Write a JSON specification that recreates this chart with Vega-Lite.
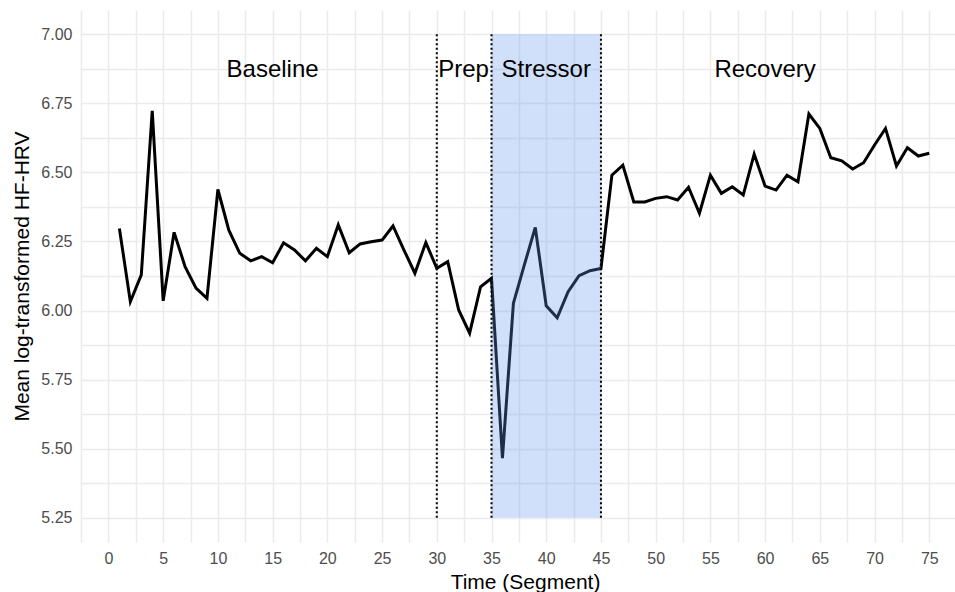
{
  "$schema": "https://vega.github.io/schema/vega-lite/v6.json",
  "autosize": {"type": "none"},
  "padding": {"left": 80, "top": 10, "right": 0, "bottom": 50},
  "width": 875,
  "height": 532,
  "background": "white",
  "config": {
    "view": {"stroke": null},
    "font": "Liberation Sans",
    "axis": {"domain": false, "ticks": false, "gridColor": "#ebebeb", "gridWidth": 1.5, "labelColor": "#4d4d4d", "labelFontSize": 16, "titleColor": "#000000", "titleFontSize": 21, "titleFontWeight": "normal", "labelFont": "Liberation Sans", "titleFont": "Liberation Sans", "labelOverlap": false, "labelBound": false, "labelFlush": false, "tickCount": 200}
  },
  "datasets": {
    "hrv": [
      {"segment": 1, "hrv": 6.297}, {"segment": 2, "hrv": 6.032}, {"segment": 3, "hrv": 6.129}, {"segment": 4, "hrv": 6.723}, {"segment": 5, "hrv": 6.035},
      {"segment": 6, "hrv": 6.283}, {"segment": 7, "hrv": 6.159}, {"segment": 8, "hrv": 6.081}, {"segment": 9, "hrv": 6.044}, {"segment": 10, "hrv": 6.438},
      {"segment": 11, "hrv": 6.291}, {"segment": 12, "hrv": 6.207}, {"segment": 13, "hrv": 6.180}, {"segment": 14, "hrv": 6.195}, {"segment": 15, "hrv": 6.173},
      {"segment": 16, "hrv": 6.245}, {"segment": 17, "hrv": 6.219}, {"segment": 18, "hrv": 6.180}, {"segment": 19, "hrv": 6.225}, {"segment": 20, "hrv": 6.195},
      {"segment": 21, "hrv": 6.310}, {"segment": 22, "hrv": 6.209}, {"segment": 23, "hrv": 6.241}, {"segment": 24, "hrv": 6.249}, {"segment": 25, "hrv": 6.255},
      {"segment": 26, "hrv": 6.306}, {"segment": 27, "hrv": 6.219}, {"segment": 28, "hrv": 6.135}, {"segment": 29, "hrv": 6.246}, {"segment": 30, "hrv": 6.153},
      {"segment": 31, "hrv": 6.177}, {"segment": 32, "hrv": 6.002}, {"segment": 33, "hrv": 5.918}, {"segment": 34, "hrv": 6.086}, {"segment": 35, "hrv": 6.117},
      {"segment": 36, "hrv": 5.466}, {"segment": 37, "hrv": 6.026}, {"segment": 38, "hrv": 6.165}, {"segment": 39, "hrv": 6.301}, {"segment": 40, "hrv": 6.017},
      {"segment": 41, "hrv": 5.974}, {"segment": 42, "hrv": 6.068}, {"segment": 43, "hrv": 6.126}, {"segment": 44, "hrv": 6.144}, {"segment": 45, "hrv": 6.152},
      {"segment": 46, "hrv": 6.490}, {"segment": 47, "hrv": 6.526}, {"segment": 48, "hrv": 6.393}, {"segment": 49, "hrv": 6.393}, {"segment": 50, "hrv": 6.406},
      {"segment": 51, "hrv": 6.412}, {"segment": 52, "hrv": 6.400}, {"segment": 53, "hrv": 6.446}, {"segment": 54, "hrv": 6.352}, {"segment": 55, "hrv": 6.490},
      {"segment": 56, "hrv": 6.424}, {"segment": 57, "hrv": 6.448}, {"segment": 58, "hrv": 6.418}, {"segment": 59, "hrv": 6.566}, {"segment": 60, "hrv": 6.450},
      {"segment": 61, "hrv": 6.436}, {"segment": 62, "hrv": 6.490}, {"segment": 63, "hrv": 6.466}, {"segment": 64, "hrv": 6.711}, {"segment": 65, "hrv": 6.659},
      {"segment": 66, "hrv": 6.553}, {"segment": 67, "hrv": 6.542}, {"segment": 68, "hrv": 6.512}, {"segment": 69, "hrv": 6.535}, {"segment": 70, "hrv": 6.599},
      {"segment": 71, "hrv": 6.659}, {"segment": 72, "hrv": 6.523}, {"segment": 73, "hrv": 6.589}, {"segment": 74, "hrv": 6.559}, {"segment": 75, "hrv": 6.569}
    ],
    "stressor": [{"start": 35, "end": 45, "low": 5.25, "high": 7.0}],
    "bounds": [{"at": 30, "low": 5.25, "high": 7.0}, {"at": 35, "low": 5.25, "high": 7.0}, {"at": 45, "low": 5.25, "high": 7.0}],
    "phases": [{"phase": "Baseline", "mid": 15, "level": 6.87}, {"phase": "Prep", "mid": 32.45, "level": 6.87}, {"phase": "Stressor", "mid": 40, "level": 6.87}, {"phase": "Recovery", "mid": 60, "level": 6.87}]
  },
  "layer": [
    {
      "data": {"name": "hrv"},
      "mark": {"type": "line", "color": "#000000", "strokeWidth": 3, "strokeJoin": "miter"},
      "encoding": {
        "x": {"field": "segment", "type": "quantitative", "scale": {"domain": [-2.6, 77.35], "nice": false, "zero": false},
          "axis": {"title": "Time (Segment)", "tickCount": 200, "values": [-2.5, 0, 2.5, 5, 7.5, 10, 12.5, 15, 17.5, 20, 22.5, 25, 27.5, 30, 32.5, 35, 37.5, 40, 42.5, 45, 47.5, 50, 52.5, 55, 57.5, 60, 62.5, 65, 67.5, 70, 72.5, 75, 77.5],
            "labelExpr": "datum.value % 5 == 0 ? format(datum.value, 'd') : ''", "labelPadding": 8, "titleX": 445, "titleY": 46, "titleBaseline": "alphabetic", "titleAnchor": "middle", "titleAlign": "center"}},
        "y": {"field": "hrv", "type": "quantitative", "scale": {"domain": [5.1625, 7.0875], "nice": false, "zero": false},
          "axis": {"title": "Mean log-transformed HF-HRV", "tickCount": 200, "values": [5.25, 5.375, 5.5, 5.625, 5.75, 5.875, 6.0, 6.125, 6.25, 6.375, 6.5, 6.625, 6.75, 6.875, 7.0],
            "labelExpr": "abs(datum.value*4 - round(datum.value*4)) < 0.001 ? format(datum.value, '.2f') : ''", "labelPadding": 8, "titleX": -52, "titleY": 266, "titleBaseline": "alphabetic", "titleAlign": "center", "titleAngle": 270}}
      }
    },
    {
      "data": {"name": "stressor"},
      "mark": {"type": "rect", "color": "#6495ED", "opacity": 0.3},
      "encoding": {
        "x": {"field": "start", "type": "quantitative"},
        "x2": {"field": "end"},
        "y": {"field": "low", "type": "quantitative"},
        "y2": {"field": "high"}
      }
    },
    {
      "data": {"name": "bounds"},
      "mark": {"type": "rule", "color": "#000000", "strokeWidth": 2, "strokeDash": [2, 2.5]},
      "encoding": {
        "x": {"field": "at", "type": "quantitative"},
        "y": {"field": "low", "type": "quantitative"},
        "y2": {"field": "high"}
      }
    },
    {
      "data": {"name": "phases"},
      "mark": {"type": "text", "fontSize": 24, "color": "#000000", "font": "Liberation Sans", "baseline": "middle", "align": "center"},
      "encoding": {
        "x": {"field": "mid", "type": "quantitative"},
        "y": {"field": "level", "type": "quantitative"},
        "text": {"field": "phase"}
      }
    }
  ]
}
